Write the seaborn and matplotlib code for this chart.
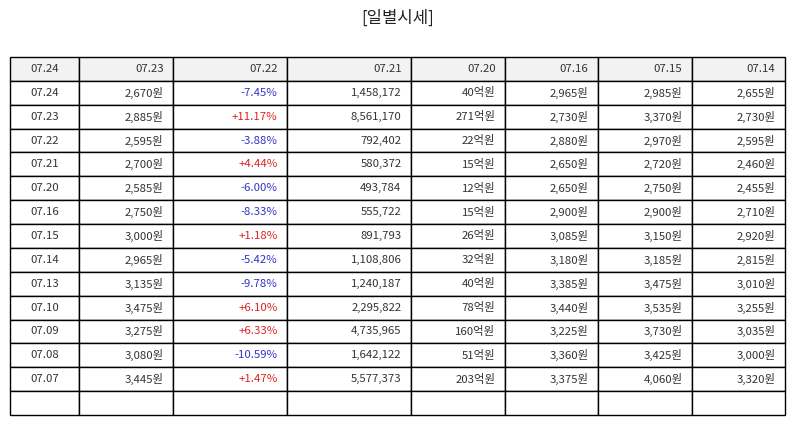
import matplotlib
matplotlib.use("Agg")
import matplotlib.pyplot as plt
import seaborn as sns

sns.set_theme(style="white")
plt.rcParams['font.family'] = ['Noto Sans CJK KR', 'DejaVu Sans']

# --- 데이터 / data ---
header = ["07.24", "07.23", "07.22", "07.21", "07.20", "07.16", "07.15", "07.14"]
dates = ["07.24", "07.23", "07.22", "07.21", "07.20", "07.16", "07.15",
         "07.14", "07.13", "07.10", "07.09", "07.08", "07.07"]
close = ["2,670원", "2,885원", "2,595원", "2,700원", "2,585원", "2,750원", "3,000원",
         "2,965원", "3,135원", "3,475원", "3,275원", "3,080원", "3,445원"]
change = ["-7.45%", "+11.17%", "-3.88%", "+4.44%", "-6.00%", "-8.33%", "+1.18%",
          "-5.42%", "-9.78%", "+6.10%", "+6.33%", "-10.59%", "+1.47%"]
volume = ["1,458,172", "8,561,170", "792,402", "580,372", "493,784", "555,722", "891,793",
          "1,108,806", "1,240,187", "2,295,822", "4,735,965", "1,642,122", "5,577,373"]
amount = ["40억원", "271억원", "22억원", "15억원", "12억원", "15억원", "26억원",
          "32억원", "40억원", "78억원", "160억원", "51억원", "203억원"]
open_p = ["2,965원", "2,730원", "2,880원", "2,650원", "2,650원", "2,900원", "3,085원",
          "3,180원", "3,385원", "3,440원", "3,225원", "3,360원", "3,375원"]
high_p = ["2,985원", "3,370원", "2,970원", "2,720원", "2,750원", "2,900원", "3,150원",
          "3,185원", "3,475원", "3,535원", "3,730원", "3,425원", "4,060원"]
low_p = ["2,655원", "2,730원", "2,595원", "2,460원", "2,455원", "2,710원", "2,920원",
         "2,815원", "3,010원", "3,255원", "3,035원", "3,000원", "3,320원"]

col_widths = [69, 94, 114, 124, 94, 93, 94, 93]

rows = [list(r) for r in zip(dates, close, change, volume, amount, open_p, high_p, low_p)]
rows.append([""] * len(header))

fig = plt.figure(figsize=(7.95, 4.25), dpi=100)
ax = fig.add_axes([0, 0, 1, 1])
ax.axis('off')

total = sum(col_widths)
tbl = ax.table(
    cellText=rows,
    colLabels=header,
    colWidths=[w / total for w in col_widths],
    bbox=[10 / 795, 10 / 425, 775 / 795, 358 / 425],
    cellLoc='right',
    colLoc='right',
)
tbl.auto_set_font_size(False)
tbl.set_fontsize(8.2)

for (r, c), cell in tbl.get_celld().items():
    cell.set_edgecolor('black')
    cell.set_linewidth(1.0)
    cell.PAD = 9.5 / col_widths[c]
    txt = cell.get_text()
    txt.set_color('#333333')
    if c == 0:
        txt.set_horizontalalignment('center')
        cell._loc = 'center'
    if r == 0:
        cell.set_facecolor('#f2f2f2')
    else:
        cell.set_facecolor('white')
        if c == 2 and r - 1 < len(change):
            txt.set_color('#dd2222' if change[r - 1].startswith('+') else '#3333cc')

fig.text(0.5, 1 - 18 / 425, "[일별시세]", ha='center', va='center', fontsize=12,
         color='#222222')

fig.savefig("out.png", dpi=100)
